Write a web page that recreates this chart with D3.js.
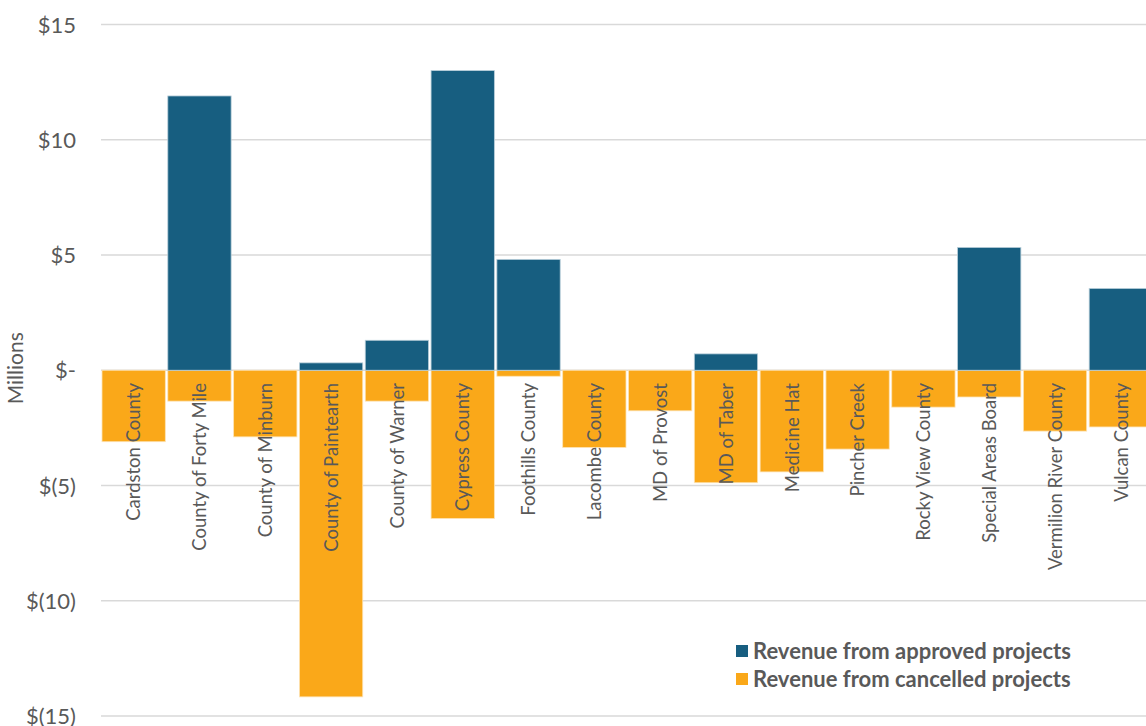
<!DOCTYPE html>
<html><head><meta charset="utf-8">
<script src="https://cdn.jsdelivr.net/npm/d3@7"></script>
<style>body{margin:0;background:#fff;overflow:hidden}svg{display:block}</style>
</head><body>
<svg id="chart" width="1146" height="726"></svg>
<script>
const categories = ["Cardston County","County of Forty Mile","County of Minburn","County of Paintearth","County of Warner","Cypress County","Foothills County","Lacombe County","MD of Provost","MD of Taber","Medicine Hat","Pincher Creek","Rocky View County","Special Areas Board","Vermilion River County","Vulcan County"];
const approved = [0, 11.9, 0, 0.32, 1.3, 13.0, 4.81, 0, 0, 0.71, 0, 0, 0, 5.33, 0, 3.55];
const cancelled = [-3.1, -1.34, -2.89, -14.17, -1.34, -6.43, -0.26, -3.35, -1.76, -4.88, -4.41, -3.42, -1.6, -1.16, -2.64, -2.46];
const yTicks = [15, 10, 5, 0, -5, -10, -15];
const yTickLabels = ["$15", "$10", "$5", "$-", "$(5)", "$(10)", "$(15)"];
const seriesNames = ["Revenue from approved projects", "Revenue from cancelled projects"];
const colors = ["#175E80", "#FAA819"];

const svg = d3.select("#chart");
const font = "Lato, 'Open Sans', sans-serif";
const textColor = "#595959";

const x = d3.scaleBand().domain(categories).range([101, 1154]).paddingInner(0).paddingOuter(0);
const y = d3.scaleLinear().domain([-15, 15]).range([716, 24.5]);

// gridlines
svg.append("g").selectAll("line").data(yTicks).join("line")
  .attr("x1", 101).attr("x2", 1154)
  .attr("y1", d => y(d)).attr("y2", d => y(d))
  .attr("stroke", "#d9d9d9").attr("stroke-width", 1.5);

// y axis labels
const yAxis = d3.axisLeft(y).tickValues(yTicks).tickSize(0)
  .tickFormat(d => yTickLabels[yTicks.indexOf(d)]);
const ga = svg.append("g").attr("transform", "translate(76,0)").call(yAxis);
ga.select(".domain").remove();
ga.selectAll("text").attr("font-family", font).attr("font-size", 22)
  .attr("fill", textColor).attr("x", 0).attr("dy", "0.35em");

svg.append("text").text("Millions")
  .attr("transform", `translate(23,${y(0) - 2}) rotate(-90)`)
  .attr("text-anchor", "middle").attr("font-family", font)
  .attr("font-size", 21).attr("fill", textColor);

const bw = x.bandwidth();
// cancelled bars
svg.append("g").selectAll("rect").data(categories).join("rect")
  .attr("x", d => x(d) + 1).attr("width", bw - 2.5)
  .attr("y", y(0)).attr("height", (d, i) => y(cancelled[i]) - y(0))
  .attr("fill", colors[1]).attr("stroke", "#fde3b5").attr("stroke-width", 0.8);
// approved bars
svg.append("g").selectAll("rect").data(categories).join("rect")
  .attr("x", d => x(d) + 1).attr("width", bw - 2.5)
  .attr("y", (d, i) => y(approved[i])).attr("height", (d, i) => y(0) - y(approved[i]))
  .attr("fill", colors[0]).attr("stroke", "#b9cfda").attr("stroke-width", 0.8)
  .attr("display", (d, i) => approved[i] > 0 ? null : "none");

// category labels
svg.append("g").selectAll("text").data(categories).join("text")
  .text(d => d)
  .attr("transform", d => `translate(${x(d) + bw / 2},383) rotate(-90)`)
  .attr("text-anchor", "end").attr("dy", "0.35em")
  .attr("font-family", font).attr("font-size", 18.5).attr("fill", textColor);

// legend
const lg = svg.append("g").attr("transform", "translate(736,651)");
seriesNames.forEach((s, i) => {
  lg.append("rect").attr("x", 0).attr("y", i * 28 - 6).attr("width", 12).attr("height", 12)
    .attr("fill", colors[i]);
  lg.append("text").text(s).attr("x", 17).attr("y", i * 28).attr("dy", "0.35em")
    .attr("font-family", font).attr("font-weight", "bold").attr("font-size", 22)
    .attr("fill", textColor);
});
</script>
</body></html>
